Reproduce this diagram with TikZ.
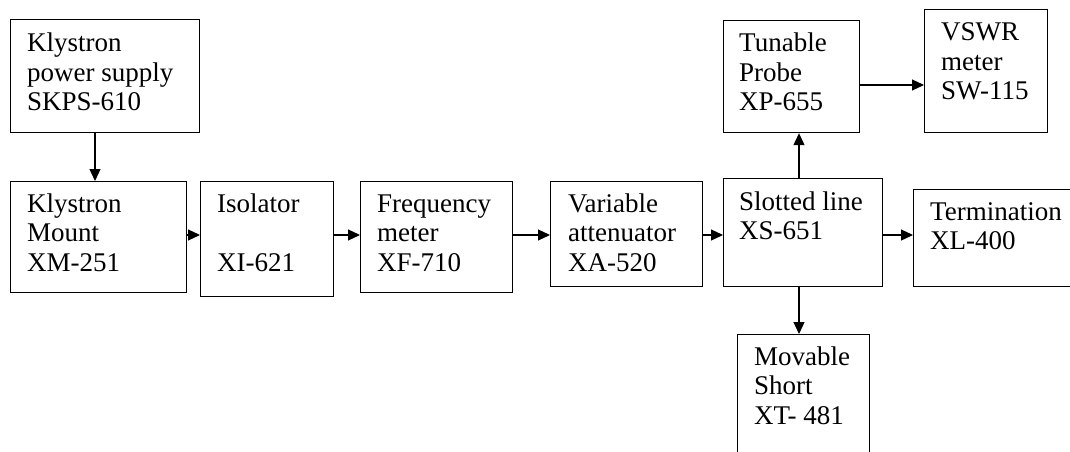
\documentclass[tikz,border=0pt]{standalone}
\usepackage{fontspec}
\setmainfont{Liberation Serif}
\usetikzlibrary{arrows.meta}
\begin{document}
\begin{tikzpicture}[x=1pt,y=-1pt,
  blk/.style={draw, line width=1.2pt, inner sep=0pt, anchor=north west},
  txt/.style={anchor=base west, inner sep=0pt, font=\fontsize{27}{29.5}\selectfont},
  arr/.style={line width=1.2pt, -{Triangle[length=12pt,width=11pt]}}]
\clip (0,0) rectangle (1070,452);
\fill[white] (0,0) rectangle (1070,452);
% boxes
\node[blk, minimum width=189pt, minimum height=113pt] (ps)   at (10,19) {};
\node[blk, minimum width=176pt, minimum height=111pt] (km)   at (10,181) {};
\node[blk, minimum width=133pt, minimum height=115pt] (iso)  at (200,181) {};
\node[blk, minimum width=152pt, minimum height=111pt] (fm)   at (360,181) {};
\node[blk, minimum width=152pt, minimum height=105pt] (va)   at (550,181) {};
\node[blk, minimum width=159pt, minimum height=108pt] (sl)   at (723,178) {};
\node[blk, minimum width=136pt, minimum height=112pt] (tp)   at (723,20) {};
\node[blk, minimum width=123pt, minimum height=123pt] (vs)   at (924,9) {};
\node[blk, minimum width=170pt, minimum height=97pt]  (tm)   at (913,189) {};
\node[blk, minimum width=132pt, minimum height=130pt] (ms)   at (737,334) {};
% texts
\newcommand\lines[1]{\begin{tabular}[t]{@{}l@{}}#1\end{tabular}}
\node[txt] (tps) at (27,52)  {\lines{Klystron\\power supply\\SKPS-610}};
\node[txt] (tkm) at (27,212) {\lines{Klystron\\Mount\\XM-251}};
\node[txt] (tis) at (217,212) {\lines{Isolator\\[29.5pt]XI-621}};
\node[txt] (tfm) at (377,212) {\lines{Frequency\\meter\\XF-710}};
\node[txt] (tva) at (568,212) {\lines{Variable\\attenuator\\XA-520}};
\node[txt] (tsl) at (739,210) {\lines{Slotted line\\XS-651}};
\node[txt] (ttp) at (739,52)  {\lines{Tunable\\Probe\\XP-655}};
\node[txt] (tvs) at (941,41)  {\lines{VSWR\\meter\\SW-115}};
\node[txt] (ttm) at (930,220) {\lines{Termination\\XL-400}};
\node[txt] (tms) at (754,365) {\lines{Movable\\Short\\XT- 481}};
% helper coordinates
\coordinate (xa) at (95,0);
\coordinate (xb) at (799,0);
\coordinate (ya) at (0,235);
\coordinate (yb) at (0,85);
% connectors
\draw[arr] (ps.south -| xa) -- (km.north -| xa);
\draw[arr] (km.east |- ya) -- (iso.west |- ya);
\draw[arr] (iso.east |- ya) -- (fm.west |- ya);
\draw[arr] (fm.east |- ya) -- (va.west |- ya);
\draw[arr] (va.east |- ya) -- (sl.west |- ya);
\draw[arr] (sl.east |- ya) -- (tm.west |- ya);
\draw[arr] (sl.north -| xb) -- (tp.south -| xb);
\draw[arr] (tp.east |- yb) -- (vs.west |- yb);
\draw[arr] (sl.south -| xb) -- (ms.north -| xb);
\end{tikzpicture}
\end{document}
